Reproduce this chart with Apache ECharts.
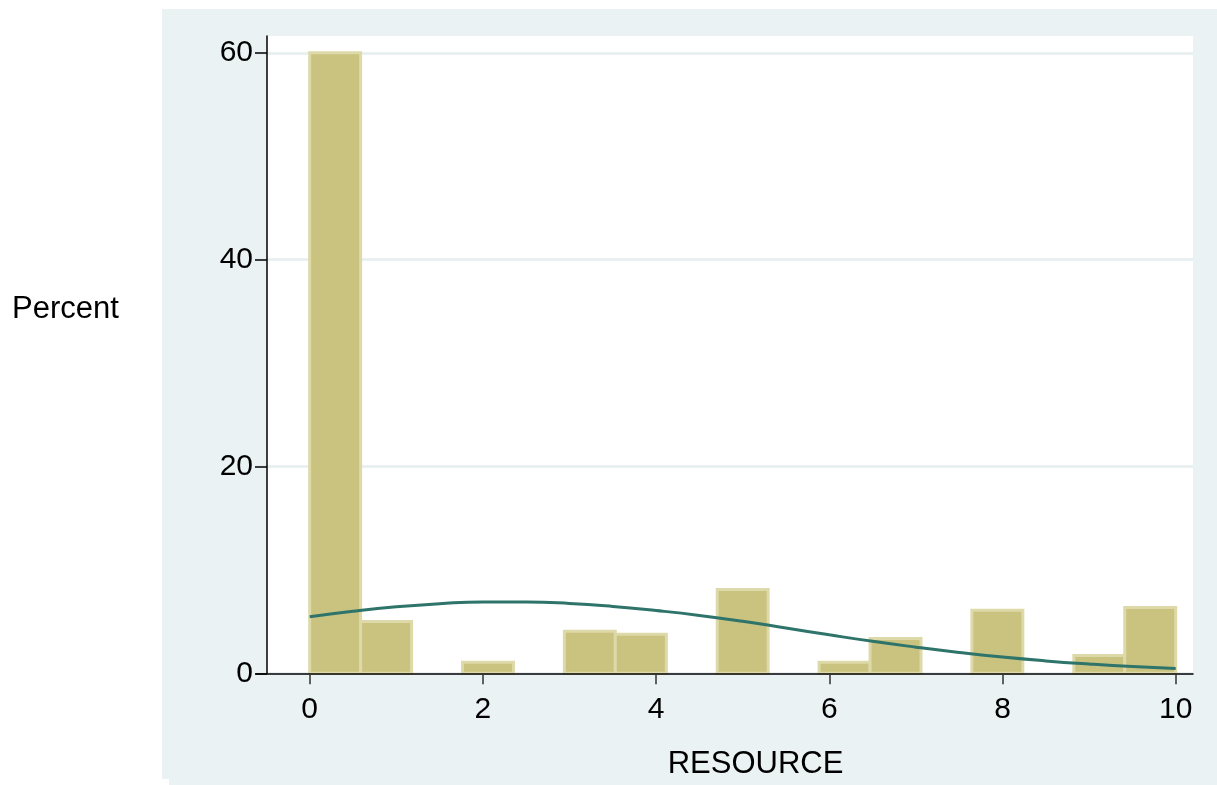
<!DOCTYPE html>
<html>
<head>
<meta charset="utf-8">
<title>RESOURCE histogram</title>
<script src="https://cdn.jsdelivr.net/npm/echarts@6/dist/echarts.min.js"></script>
<style>
  html, body { margin: 0; padding: 0; background: #ffffff; }
  #chart { width: 1217px; height: 785px; }
</style>
</head>
<body>
<div id="chart"></div>
<script>
// Histogram bin edges (17 equal-width bins over 0..10)
const binEdges = [0, 0.588, 1.176, 1.765, 2.353, 2.941, 3.529, 4.118, 4.706,
                  5.294, 5.882, 6.471, 7.059, 7.647, 8.235, 8.824, 9.412, 10];
// Percent of observations in each bin
const percent = [60, 5.0, 0, 1.06, 0, 4.07, 3.78, 0, 8.1, 0, 1.06, 3.36, 0, 6.1, 0, 1.71, 6.36];

// Normal density overlay, scaled to percent per bin
const curveX = [0, 0.5, 1, 1.5, 2, 2.5, 3, 3.5, 4, 4.5, 5, 5.5, 6, 6.5, 7, 7.5, 8, 8.5, 9, 9.5, 10];
const curveY = [5.47, 6.0, 6.43, 6.73, 6.9, 6.9, 6.76, 6.47, 6.07, 5.6, 5.03, 4.38, 3.72, 3.09, 2.53, 2.02, 1.57, 1.2, 0.9, 0.65, 0.46];

// Axis ticks
const xTicks = [0, 2, 4, 6, 8, 10];
const yTicks = [0, 20, 40, 60];

const xTitle = 'RESOURCE';
const yTitle = 'Percent';

const FONT = '"Liberation Sans", Arial, Helvetica, sans-serif';

const barData = percent
  .map((v, i) => [binEdges[i], binEdges[i + 1], v])
  .filter(d => d[2] > 0);
const curveData = curveX.map((x, i) => [x, curveY[i]]);

const chart = echarts.init(document.getElementById('chart'), null, { renderer: 'canvas' });

chart.setOption({
  backgroundColor: 'transparent',
  animation: false,
  graphic: [
    // outer graph region
    { type: 'rect', z: -20, silent: true,
      shape: { x: 162, y: 9, width: 1055, height: 770 },
      style: { fill: '#eaf2f3' } },
    { type: 'rect', z: -20, silent: true,
      shape: { x: 169, y: 778, width: 1048, height: 7 },
      style: { fill: '#eaf2f3' } },
    // plot region
    { type: 'rect', z: -10, silent: true,
      shape: { x: 267, y: 36, width: 926, height: 637.3 },
      style: { fill: '#ffffff' } },
    // axis titles
    { type: 'text', z: 10, left: 12, top: 294, silent: true,
      style: { text: yTitle, font: '31px ' + FONT, fill: '#000' } },
    { type: 'text', z: 10, silent: true,
      style: { text: xTitle, x: 755.5, y: 764, textAlign: 'center', textVerticalAlign: 'middle',
               font: '31px ' + FONT, fill: '#000' } }
  ],
  grid: {
    left: 256, right: 24, top: 36, bottom: 111.7,
    show: false
  },
  xAxis: {
    type: 'value',
    min: -0.62, max: 10.2,
    z: 5,
    axisLine: { show: true, onZero: false, lineStyle: { color: '#000', width: 1.5 } },
    axisTick: { show: true, length: 11, customValues: xTicks,
                lineStyle: { color: '#333', width: 1.5 } },
    axisLabel: { show: true, customValues: xTicks, margin: 21,
                 color: '#000', fontSize: 30, fontFamily: FONT },
    splitLine: { show: false }
  },
  yAxis: {
    type: 'value',
    min: 0, max: 61.63, interval: 20,
    offset: -11,
    z: 0,
    axisLine: { show: true, onZero: false, lineStyle: { color: '#000', width: 1.5 } },
    axisTick: { show: true, length: 12, customValues: yTicks,
                lineStyle: { color: '#000', width: 1.5 } },
    axisLabel: { show: true, customValues: yTicks, margin: 14,
                 color: '#000', fontSize: 30, fontFamily: FONT },
    splitLine: { show: true, lineStyle: { color: '#e6eef0', width: 2.5 } }
  },
  series: [
    {
      type: 'custom',
      name: 'Percent',
      z: 2,
      data: barData,
      encode: { x: [0, 1], y: 2 },
      renderItem: function (params, api) {
        const p0 = api.coord([api.value(0), api.value(2)]);
        const p1 = api.coord([api.value(1), 0]);
        return {
          type: 'rect',
          shape: { x: p0[0], y: p0[1], width: p1[0] - p0[0], height: p1[1] - p0[1] },
          style: { fill: '#c9c37f', stroke: '#ddd9a8', lineWidth: 3 }
        };
      }
    },
    {
      type: 'line',
      name: 'Normal density',
      z: 3,
      data: curveData,
      smooth: true,
      showSymbol: false,
      symbol: 'none',
      lineStyle: { color: '#2e746b', width: 3 }
    }
  ]
});
</script>
</body>
</html>
